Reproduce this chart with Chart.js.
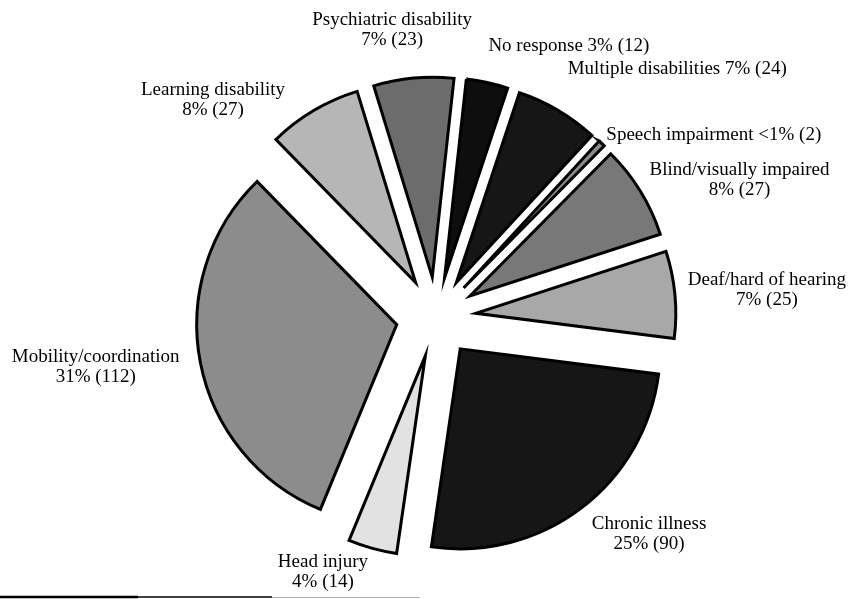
<!doctype html>
<html>
	<head>
		<meta charset="utf-8" />
		<title>Disability categories pie</title>
		<script src="https://cdn.jsdelivr.net/npm/chart.js@4.4.1/dist/chart.umd.min.js"></script>
		<style>
			html,
			body {
				margin: 0;
				padding: 0;
				background: #fff;
			}

			#wrap {
				position: relative;
				width: 853px;
				height: 599px;
			}
		</style>
	</head>

	<body>
		<div id="wrap"><canvas id="pieCanvas"></canvas></div>

		<script>
			// data, clockwise from the top
			const categories = [
				"Psychiatric disability",
				"No response",
				"Multiple disabilities",
				"Speech impairment",
				"Blind/visually impaired",
				"Deaf/hard of hearing",
				"Chronic illness",
				"Head injury",
				"Mobility/coordination",
				"Learning disability",
			];
			const counts = [23, 12, 24, 2, 27, 25, 90, 14, 112, 27];
			const percents = ["7%", "3%", "7%", "<1%", "8%", "7%", "25%", "4%", "31%", "8%"];
			const oneLineLabels = [false, true, true, true, false, false, false, false, false, false];

			// flat greys standing in for the halftone screens of the scan
			const sliceFills = [
				"#6c6c6c", "#0e0e0e", "#161616", "#8c8c8c", "#787878",
				"#a8a8a8", "#161616", "#e2e2e2", "#8c8c8c", "#b6b6b6",
			];

			// label block centres: [angle clockwise from top (deg), distance from pie centre]
			const labelSpots = [
				[351.3, 290], [26.1, 302], [44.2, 346], [56.8, 332], [65.7, 333],
				[85.3, 332], [135.5, 304], [203.9, 279], [261.6, 344], [314.2, 311],
			];

			const EXPLODE = 40; // px every slice is pulled out along its bisector
			const FONT = "19px 'Liberation Serif', 'DejaVu Serif', serif";
			const LINE_H = 20;

			const explodePlugin = {
				id: "explode",
				afterDatasetsUpdate(chart) {
					chart.getDatasetMeta(0).data.forEach((arc) => {
						const mid = (arc.startAngle + arc.endAngle) / 2;
						arc.x += Math.cos(mid) * EXPLODE;
						arc.y += Math.sin(mid) * EXPLODE;
					});
				},
			};

			const labelPlugin = {
				id: "outsideLabels",
				afterDatasetsDraw(chart) {
					const { ctx, chartArea } = chart;
					const cx = (chartArea.left + chartArea.right) / 2;
					const cy = (chartArea.top + chartArea.bottom) / 2;
					ctx.save();
					ctx.font = FONT;
					ctx.fillStyle = "#000";
					ctx.textAlign = "center";
					ctx.textBaseline = "middle";
					categories.forEach((name, i) => {
						const [deg, dist] = labelSpots[i];
						const a = (deg * Math.PI) / 180;
						const x = cx + Math.sin(a) * dist;
						const y = cy - Math.cos(a) * dist;
						const tail = percents[i] + " (" + counts[i] + ")";
						if (oneLineLabels[i]) {
							ctx.fillText(name + " " + tail, x, y);
						} else {
							ctx.fillText(name, x, y - LINE_H / 2);
							ctx.fillText(tail, x, y + LINE_H / 2);
						}
					});

					// rule at the foot of the scanned page
					ctx.strokeStyle = "#000";
					ctx.lineWidth = 2.5;
					ctx.beginPath();
					ctx.moveTo(0, 597);
					ctx.lineTo(138, 597);
					ctx.stroke();
					ctx.lineWidth = 1.5;
					ctx.beginPath();
					ctx.moveTo(138, 597);
					ctx.lineTo(272, 597);
					ctx.stroke();
					ctx.strokeStyle = "#b4b4b4";
					ctx.lineWidth = 1;
					ctx.beginPath();
					ctx.moveTo(272, 597.5);
					ctx.lineTo(420, 597.5);
					ctx.stroke();
					ctx.restore();
				},
			};

			new Chart(document.getElementById("pieCanvas"), {
				type: "pie",
				data: {
					labels: categories,
					datasets: [
						{
							data: counts,
							backgroundColor: sliceFills,
							borderColor: "#000",
							borderWidth: 3,
							borderJoinStyle: "miter",
						},
					],
				},
				options: {
					responsive: true,
					maintainAspectRatio: false,
					animation: false,
					rotation: -17,
					radius: 200,
					layout: { padding: { left: 19, right: 0, top: 35, bottom: 0 } },
					plugins: {
						legend: { display: false },
						tooltip: { enabled: false },
					},
				},
				plugins: [explodePlugin, labelPlugin],
			});
		</script>
	</body>
</html>
